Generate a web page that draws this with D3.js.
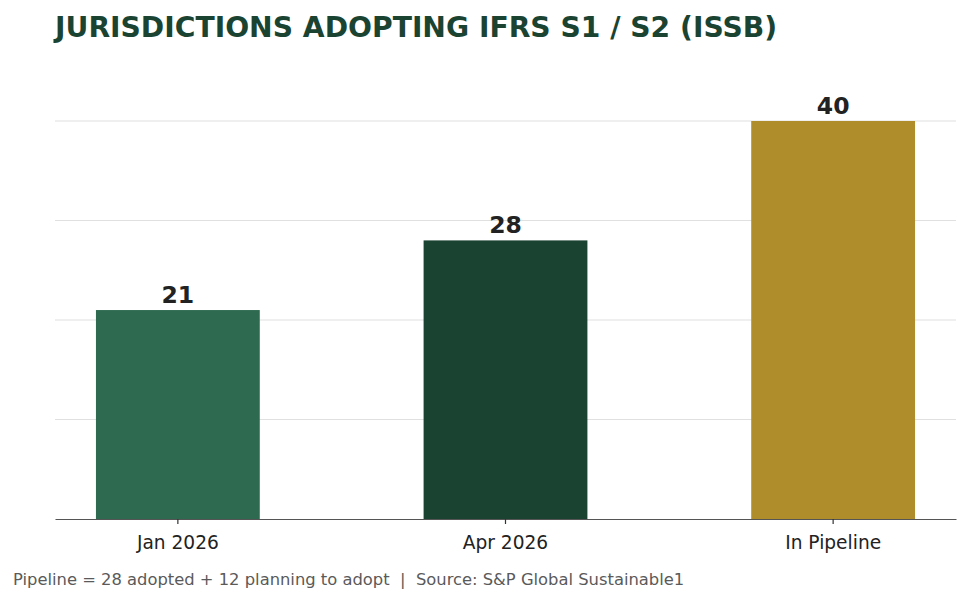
<!DOCTYPE html>
<html><head><meta charset="utf-8">
<script src="https://cdn.jsdelivr.net/npm/d3@7"></script>
<style>body{margin:0;background:#fff}svg{display:block}text{font-family:"DejaVu Sans",sans-serif}</style>
</head><body><svg id="c" width="969" height="602"></svg>
<script>
const categories = ["Jan 2026", "Apr 2026", "In Pipeline"];
const values = [21, 28, 40];
const colors = ["#2d6a4f", "#1b4332", "#b08d2b"];
const gridTicks = [10, 20, 30, 40];
const titleText = "JURISDICTIONS ADOPTING IFRS S1 / S2 (ISSB)";
const footerText = "Pipeline = 28 adopted + 12 planning to adopt  |  Source: S&P Global Sustainable1";

const svg = d3.select("#c");
const m = {left: 55, right: 13, top: 121, bottom: 83};
const W = 969, H = 602;
const x = d3.scaleBand().domain(categories).range([m.left, W - m.right]).paddingInner(0.5).paddingOuter(0.125);
const y = d3.scaleLinear().domain([0, 40]).range([H - m.bottom, m.top]);

svg.append("g").selectAll("line").data(gridTicks).join("line")
  .attr("x1", m.left).attr("x2", W - m.right)
  .attr("y1", d => y(d)).attr("y2", d => y(d))
  .attr("stroke", "#e0e0e0").attr("stroke-width", 1.2);

svg.append("g").selectAll("rect").data(values).join("rect")
  .attr("x", (d, i) => x(categories[i])).attr("width", x.bandwidth())
  .attr("y", d => y(d)).attr("height", d => y(0) - y(d))
  .attr("fill", (d, i) => colors[i]);

svg.append("g").selectAll("text").data(values).join("text")
  .attr("x", (d, i) => x(categories[i]) + x.bandwidth() / 2)
  .attr("y", d => y(d) - 7)
  .attr("text-anchor", "middle").attr("font-weight", "bold").attr("font-size", 23.5)
  .attr("fill", "#222").text(d => d);

const ax = svg.append("g").attr("transform", `translate(0,${y(0)})`)
  .call(d3.axisBottom(x).tickSize(5).tickPadding(11.5).tickSizeOuter(0));
ax.select(".domain").attr("stroke", "#555").attr("stroke-width", 1.2);
ax.selectAll(".tick line").attr("stroke", "#333").attr("stroke-width", 1.2);
ax.selectAll(".tick text").attr("font-size", 18.6).attr("fill", "#222").attr("font-family", "DejaVu Sans, sans-serif");

svg.append("text").attr("x", 55).attr("y", 37).attr("font-size", 28.2).attr("font-weight", "bold")
  .attr("fill", "#1b4332").text(titleText);

svg.append("text").attr("x", 13).attr("y", 585).attr("font-size", 16.35)
  .attr("fill", "#5a5a5a").attr("xml:space", "preserve").style("white-space", "pre").text(footerText);
</script></body></html>
